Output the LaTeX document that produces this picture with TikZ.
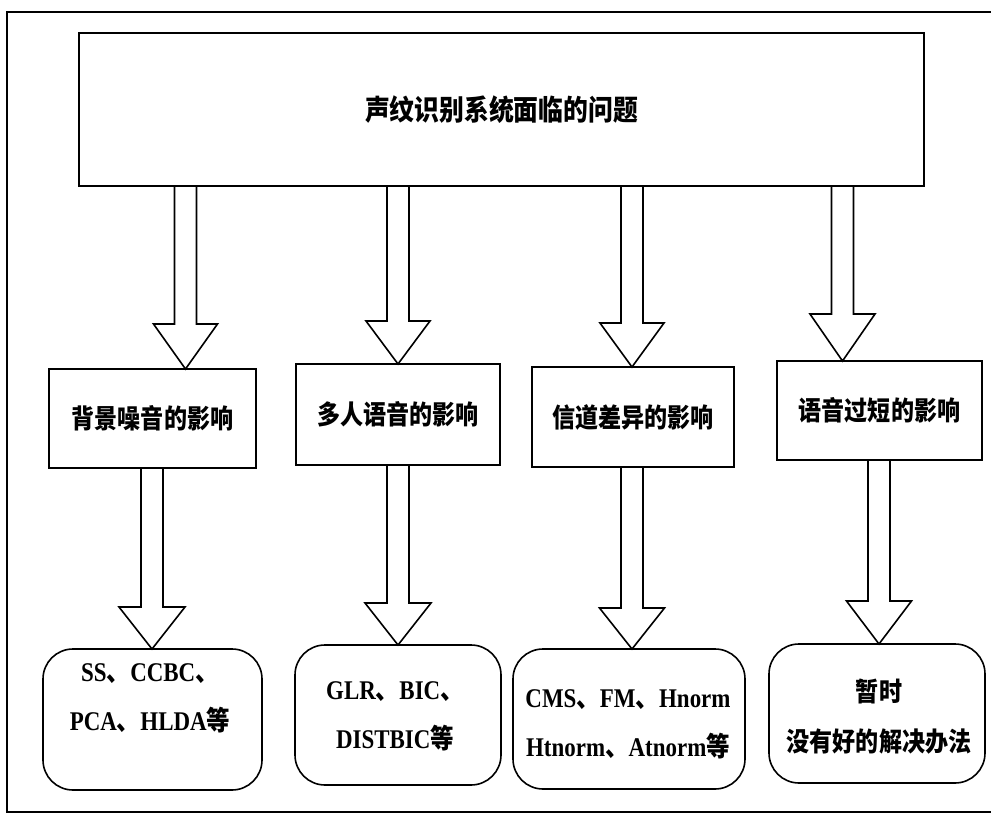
\documentclass[tikz,border=0pt]{standalone}
\usepackage{fontspec}
\setmainfont{Liberation Serif}[FakeStretch=0.85]
\newfontfamily\cjk{Noto Sans CJK SC}[FakeStretch=0.87]
\usetikzlibrary{calc}
\newcommand\zh[1]{{\cjk #1}}
\tikzset{
  every node/.style={inner sep=0pt, outer sep=0pt},
  frameline/.style={line width=1.6pt},
  probbox/.style={draw, line width=1.6pt, rectangle, font=\cjk\bfseries\fontsize{26.5}{30}\selectfont},
  solbox/.style={draw, line width=1.6pt, rectangle, rounded corners=30pt},
  soltext/.style={align=center, font=\bfseries\fontsize{27}{49}\selectfont},
  barrow/.style={draw, line width=1.6pt, line join=miter},
}
% #1 from node, #2 to node, #3 x-coordinate name, #4 head length, #5 head half width
\newcommand\blockarrow[5]{%
  \draw[barrow] let \p1=(#1.south -| #3), \p2=(#2.north -| #3) in
    (\x1-11pt,\y1) -- (\x1-11pt,\y2+#4) -- (\x1-#5,\y2+#4) -- (\p2)
    -- (\x1+#5,\y2+#4) -- (\x1+11pt,\y2+#4) -- (\x1+11pt,\y1);}
\begin{document}
\begin{tikzpicture}[x=1pt,y=-1pt]
\useasboundingbox (0,0) rectangle (991,813);
% outer frame
\draw[frameline] (991,12) -- (7,12) -- (7,812) -- (991,812);
% top box
\node[probbox, minimum width=845pt, minimum height=153pt,
      font=\cjk\bfseries\fontsize{28.5}{32}\selectfont] (top) at (501.5,109.5) {声纹识别系统面临的问题};
% problem boxes
\node[probbox, minimum width=207pt, minimum height=99pt]  (b1) at (152.5,418.5) {背景噪音的影响};
\node[probbox, minimum width=204pt, minimum height=101pt] (b2) at (398,414.5)   {多人语音的影响};
\node[probbox, minimum width=202pt, minimum height=100pt] (b3) at (633,417)     {信道差异的影响};
\node[probbox, minimum width=205pt, minimum height=99pt]  (b4) at (879.5,410.5) {语音过短的影响};
% solution boxes
\node[solbox, minimum width=219pt, minimum height=141pt] (r1) at (152.5,719.5) {};
\node[solbox, minimum width=206pt, minimum height=140pt] (r2) at (398,715) {};
\node[solbox, minimum width=232pt, minimum height=140pt] (r3) at (629,719) {};
\node[solbox, minimum width=216pt, minimum height=139pt] (r4) at (877,713.5) {};
\node[soltext] (r1t) at (150,698) {SS\zh{、}CCBC\zh{、}\\PCA\zh{、}HLDA\zh{等}};
\node[soltext] (r2t) at (395,716.5) {GLR\zh{、}BIC\zh{、}\\DISTBIC\zh{等}};
\node[soltext] (r3t) at (628,724) {CMS\zh{、}FM\zh{、}Hnorm\\Htnorm\zh{、}Atnorm\zh{等}};
\node[soltext, font=\cjk\bfseries\fontsize{26.5}{50}\selectfont] (r4t) at (879,717) {暂时\\没有好的解决办法};
% arrow x positions
\coordinate (xa) at (185.5,0);
\coordinate (xb) at (398,0);
\coordinate (xc) at (632,0);
\coordinate (xd) at (842.5,0);
\coordinate (xe) at (152,0);
\coordinate (xf) at (398,0);
\coordinate (xg) at (632,0);
\coordinate (xh) at (879,0);
% block arrows
\blockarrow{top}{b1}{xa}{45pt}{32pt}
\blockarrow{top}{b2}{xb}{43pt}{32pt}
\blockarrow{top}{b3}{xc}{44pt}{32pt}
\blockarrow{top}{b4}{xd}{47pt}{32.5pt}
\blockarrow{b1}{r1}{xe}{42pt}{33pt}
\blockarrow{b2}{r2}{xf}{42pt}{33pt}
\blockarrow{b3}{r3}{xg}{41pt}{32.5pt}
\blockarrow{b4}{r4}{xh}{43pt}{32.5pt}
\end{tikzpicture}
\end{document}
